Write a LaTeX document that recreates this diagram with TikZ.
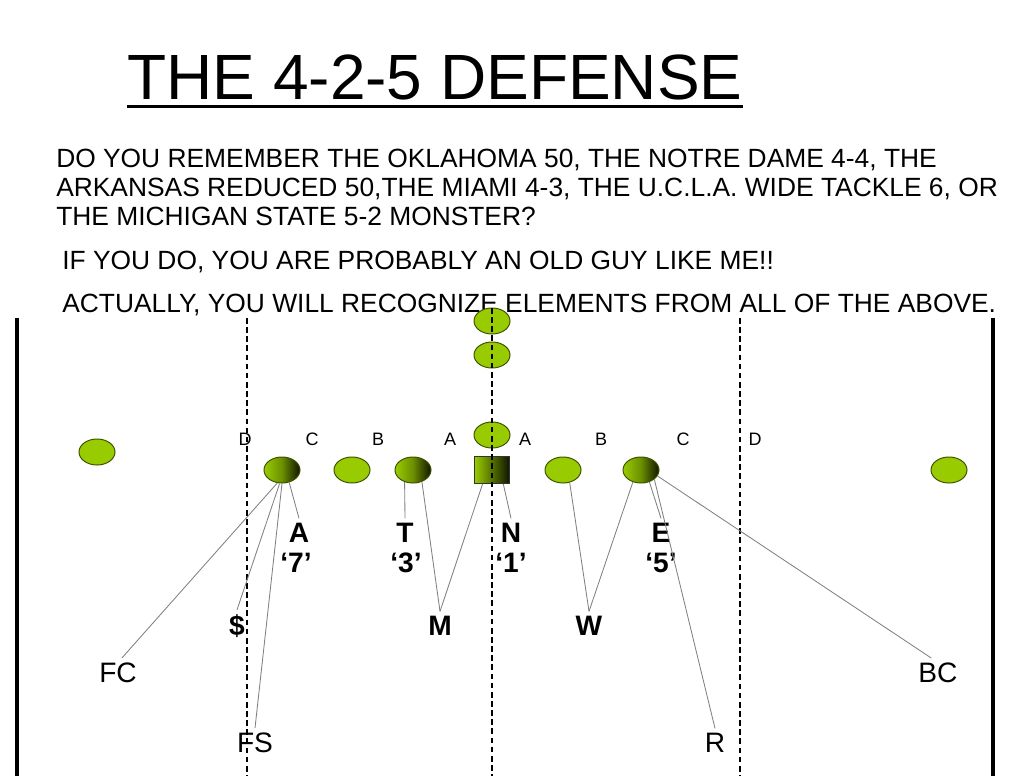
\documentclass[tikz,border=0pt]{standalone}
\usepackage{fontspec}
\setmainfont{Liberation Sans}
\usetikzlibrary{shapes.geometric}
\definecolor{fieldgreen}{HTML}{99CC00}
\definecolor{rimgreen}{HTML}{3E5200}
\tikzset{
  player/.style={ellipse, draw=rimgreen, fill=fieldgreen, line width=0.7pt,
    minimum width=9mm, minimum height=6.5mm, inner sep=0pt},
  shadeplayer/.style={player, left color=fieldgreen, right color=black!90!fieldgreen,
    middle color=fieldgreen!70!black},
  gap/.style={anchor=base, inner sep=0pt, font=\fontsize{12.8}{14}\selectfont},
  poslbl/.style={anchor=base, inner sep=1mm, font=\fontsize{20}{22}\selectfont\bfseries},
  deep/.style={anchor=base, inner sep=1mm, font=\fontsize{20}{22}\selectfont},
  txt/.style={anchor=base west, inner sep=0pt, font=\fontsize{18.75}{20}\selectfont},
  route/.style={gray, line width=0.6pt},
  split/.style={black, line width=1.4pt, dash pattern=on 4pt off 2.5pt}
}
\begin{document}
\begin{tikzpicture}[x=0.025cm, y=-0.025cm]
  \useasboundingbox (0,0) rectangle (1024,776);
  % title and text
  \node (title)[anchor=base, inner sep=0pt, font=\fontsize{45.5}{50}\selectfont] at (435,99) {THE 4-2-5 DEFENSE};
  \draw[line width=2pt] ([yshift=-4.5pt]title.south west) -- ([yshift=-4.5pt]title.south east);
  \node (intro1)[txt] at (56,167) {DO YOU REMEMBER THE OKLAHOMA 50, THE NOTRE DAME 4-4, THE};
  \node (intro2)[txt] at (56,196) {ARKANSAS REDUCED 50,THE MIAMI 4-3, THE U.C.L.A. WIDE TACKLE 6, OR};
  \node (intro3)[txt] at (56,225) {THE MICHIGAN STATE 5-2 MONSTER?};
  \node (intro4)[txt] at (62,269) {IF YOU DO, YOU ARE PROBABLY AN OLD GUY LIKE ME!!};
  \node (intro5)[txt] at (62,312) {ACTUALLY, YOU WILL RECOGNIZE ELEMENTS FROM ALL OF THE ABOVE.};
  % gaps
  \node (gD1)[gap] at (245,445) {D};
  \node (gC1)[gap] at (312,445) {C};
  \node (gB1)[gap] at (378,445) {B};
  \node (gA1)[gap] at (450,445) {A};
  \node (gA2)[gap] at (525,445) {A};
  \node (gB2)[gap] at (601,445) {B};
  \node (gC2)[gap] at (683,445) {C};
  \node (gD2)[gap] at (755,445) {D};
  % offense
  \node (s1)[player] at (492,321) {};
  \node (s2)[player] at (492,355) {};
  \node (s3)[player] at (492,435) {};
  \node (olw)[player] at (97,452) {};
  \node (orw)[player] at (949,470) {};
  \node (le)[shadeplayer] at (282,470) {};
  \node (lg)[player] at (352,470) {};
  \node (lt)[shadeplayer] at (413,470) {};
  \node (ctr)[rectangle, draw=black!80, line width=0.7pt, left color=fieldgreen,
    middle color=fieldgreen!70!black, right color=black!90!fieldgreen,
    minimum width=8.75mm, minimum height=6.75mm, inner sep=0pt] at (492,470) {};
  \node (rg)[player] at (563,470) {};
  \node (rt)[shadeplayer] at (641,470) {};
  % field lines
  \draw[black, line width=2.2pt] (17,318) -- (17,776);
  \draw[black, line width=2.2pt] (993,318) -- (993,776);
  \draw[split] (247,318) -- (247,776);
  \draw[split] (492,308) -- (492,776);
  \draw[split] (740,318) -- (740,776);
  % defense
  \node (endA)[poslbl] at (299,542) {A};
  \node (num7)[poslbl] at (296,572) {‘7’};
  \node (tackT)[poslbl] at (405,542) {T};
  \node (num3)[poslbl] at (406,572) {‘3’};
  \node (noseN)[poslbl] at (511,542) {N};
  \node (num1)[poslbl] at (511,572) {‘1’};
  \node (endE)[poslbl] at (661,542) {E};
  \node (num5)[poslbl] at (661,572) {‘5’};
  \node (cash)[poslbl] at (237,635) {\$};
  \node (mike)[poslbl] at (440,635) {M};
  \node (will)[poslbl] at (589,635) {W};
  \node (fc)[deep] at (118,682) {FC};
  \node (bc)[deep] at (938,682) {BC};
  \node (fs)[deep] at (255,752) {FS};
  \node (rov)[deep] at (715,752) {R};
  % keys
  \draw[route] (le.250) -- (fc.75);
  \draw[route] (le.260) -- (cash.north);
  \draw[route] (le.270) -- (fs.north);
  \draw[route] (le.300) -- (endA.north);
  \draw[route] (lt.235) -- (tackT.north);
  \draw[route] (lt.307) -- (mike.north);
  \draw[route] (ctr.236) -- (mike.north);
  \draw[route] (ctr.309) -- (noseN.north);
  \draw[route] (rg.298) -- (will.north);
  \draw[route] (rt.236) -- (will.north);
  \draw[route] (rt.305) -- (endE.north);
  \draw[route] (rt.325) -- (rov.north);
  \draw[route] (rt.340) -- (bc.115);
\end{tikzpicture}
\end{document}
